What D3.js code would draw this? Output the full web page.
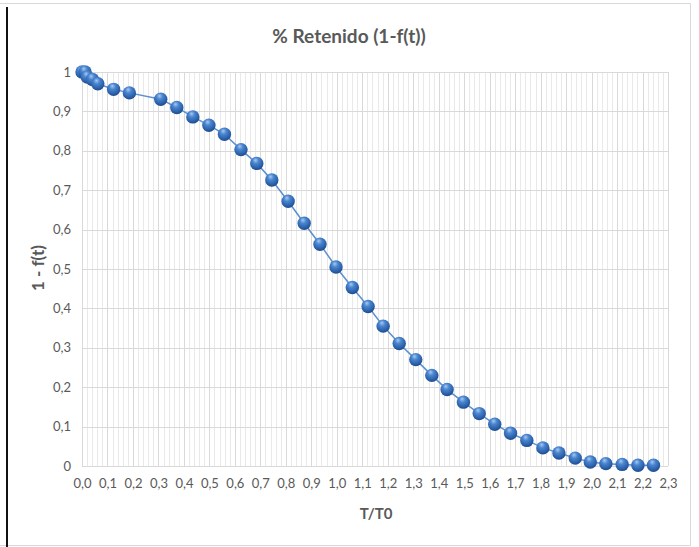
<!DOCTYPE html>
<html>
<head>
<meta charset="utf-8">
<script src="https://cdn.jsdelivr.net/npm/d3@7"></script>
<style>
  body { margin: 0; background: #fff; }
  text { font-family: Lato, "Open Sans", sans-serif; }
</style>
</head>
<body>
<div id="chart"></div>
<script>
// data
var tValues = [0, 0.012, 0.021, 0.041, 0.062, 0.124, 0.186, 0.309, 0.372, 0.435,
    0.498, 0.559, 0.624, 0.686, 0.745, 0.809, 0.872, 0.934, 0.997, 1.061,
    1.123, 1.182, 1.245, 1.310, 1.373, 1.433, 1.497, 1.559, 1.620, 1.682,
    1.746, 1.809, 1.872, 1.936, 1.995, 2.056, 2.120, 2.182, 2.243];
var retained = [1.0, 1.0, 0.987, 0.981, 0.970, 0.956, 0.947, 0.931, 0.910, 0.886,
    0.865, 0.842, 0.803, 0.768, 0.726, 0.672, 0.616, 0.563, 0.505, 0.453,
    0.405, 0.355, 0.311, 0.270, 0.230, 0.194, 0.162, 0.133, 0.106, 0.083,
    0.065, 0.046, 0.033, 0.020, 0.010, 0.006, 0.004, 0.002, 0.002];
var xTicks = d3.range(0, 24).map(function (i) { return i / 10; });
var yTicks = d3.range(0, 11).map(function (i) { return i / 10; });

var data = tValues.map(function (t, i) {
    return {t: t, v: retained[i]};
});

var W = 699, H = 547;
var margin = {top: 72, right: 32, bottom: 81, left: 82},
    width = 668 - margin.left,
    height = 466 - margin.top;

var svg = d3.select("#chart")
    .append("svg")
    .attr("width", W)
    .attr("height", H);

// outer frame
svg.append("path")
    .attr("d", "M0,3.5H690.5V545.5H0")
    .attr("fill", "none")
    .attr("stroke", "#d9d9d9")
    .attr("stroke-width", 1);
svg.append("line")
    .attr("x1", 7).attr("x2", 7)
    .attr("y1", 7).attr("y2", H)
    .attr("stroke", "#111")
    .attr("stroke-width", 2);

var defs = svg.append("defs");
var grad = defs.append("radialGradient")
    .attr("id", "ball")
    .attr("cx", "45%").attr("cy", "35%").attr("r", "65%")
    .attr("fx", "40%").attr("fy", "25%");
grad.append("stop").attr("offset", "0%").attr("stop-color", "#a9c8f0");
grad.append("stop").attr("offset", "35%").attr("stop-color", "#4a86d0");
grad.append("stop").attr("offset", "80%").attr("stop-color", "#2a5fa8");
grad.append("stop").attr("offset", "100%").attr("stop-color", "#1d4a8a");

var g = svg.append("g")
    .attr("transform", "translate(" + margin.left + "," + margin.top + ")");

var x = d3.scaleLinear()
    .domain([0, 2.3])
    .range([0, width]);

var y = d3.scaleLinear()
    .domain([0, 1])
    .range([height, 0]);

// minor vertical gridlines every 0.02
var minor = d3.range(0, 116).map(function (i) { return i / 50; })
    .filter(function (d, i) { return i % 5 !== 0; });
g.selectAll(".minor")
    .data(minor)
    .enter()
    .append("line")
    .attr("x1", function (d) { return Math.round(x(d)) + 0.5; })
    .attr("x2", function (d) { return Math.round(x(d)) + 0.5; })
    .attr("y1", 0)
    .attr("y2", height)
    .attr("stroke", "#e9e9e9");

// major gridlines
g.selectAll(".vmajor")
    .data(xTicks)
    .enter()
    .append("line")
    .attr("x1", function (d) { return Math.round(x(d)) + 0.5; })
    .attr("x2", function (d) { return Math.round(x(d)) + 0.5; })
    .attr("y1", 0)
    .attr("y2", height)
    .attr("stroke", "#d9d9d9");

g.selectAll(".hmajor")
    .data(yTicks)
    .enter()
    .append("line")
    .attr("x1", 0)
    .attr("x2", width)
    .attr("y1", function (d) { return Math.round(y(d)) + 0.5; })
    .attr("y2", function (d) { return Math.round(y(d)) + 0.5; })
    .attr("stroke", "#d9d9d9");

var comma = function (f) {
    return function (d) { return f(d).replace(".", ","); };
};

// axes
var xAxis = d3.axisBottom(x)
    .tickValues(xTicks)
    .tickSize(0)
    .tickPadding(13)
    .tickFormat(comma(d3.format(".1f")));

g.append("g")
    .attr("transform", "translate(0," + height + ")")
    .call(xAxis)
    .call(function (s) { s.select(".domain").remove(); })
    .selectAll("text")
    .style("font-size", "13px")
    .style("fill", "#595959");

var yAxis = d3.axisLeft(y)
    .tickValues(yTicks)
    .tickSize(0)
    .tickPadding(11)
    .tickFormat(comma(d3.format("~g")));

g.append("g")
    .call(yAxis)
    .call(function (s) { s.select(".domain").remove(); })
    .selectAll("text")
    .style("font-size", "13px")
    .style("fill", "#595959");

// line
var line = d3.line()
    .x(function (d) { return x(d.t); })
    .y(function (d) { return y(d.v); });

g.append("path")
    .datum(data)
    .attr("d", line)
    .attr("fill", "none")
    .attr("stroke", "#5b8fd0")
    .attr("stroke-width", 1.5);

// markers
g.selectAll("mycircle")
    .data(data)
    .enter()
    .append("circle")
    .attr("cx", function (d) { return x(d.t); })
    .attr("cy", function (d) { return y(d.v); })
    .attr("r", 6.7)
    .style("fill", "url(#ball)");

// titles
svg.append("text")
    .attr("x", 349)
    .attr("y", 43)
    .attr("text-anchor", "middle")
    .style("font-size", "19px")
    .style("font-weight", "bold")
    .style("fill", "#595959")
    .text("% Retenido (1-f(t))");

svg.append("text")
    .attr("x", 376)
    .attr("y", 519)
    .attr("text-anchor", "middle")
    .style("font-size", "15px")
    .style("font-weight", "bold")
    .style("fill", "#595959")
    .text("T/T0");

svg.append("text")
    .attr("transform", "translate(44,268) rotate(-90)")
    .attr("text-anchor", "middle")
    .style("font-size", "17px")
    .style("font-weight", "bold")
    .style("fill", "#595959")
    .text("1  - f(t)");
</script>
</body>
</html>
